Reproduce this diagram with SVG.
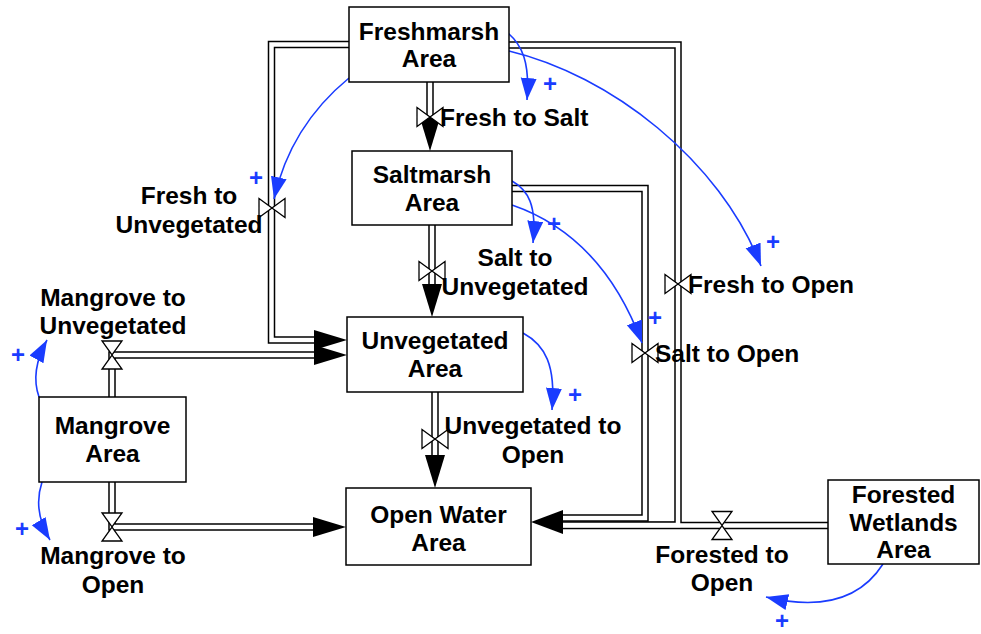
<svg xmlns="http://www.w3.org/2000/svg" width="981" height="634" viewBox="0 0 981 634">
<defs>
<style>
.box{fill:#fff;stroke:#000;stroke-width:1.5}
.t{font-family:"Liberation Sans",Arial,Helvetica,sans-serif;font-weight:bold;font-size:24.5px;fill:#000}
.c{text-anchor:middle}
.plus{font-family:"Liberation Sans",Arial,Helvetica,sans-serif;font-weight:bold;font-size:24px;fill:#1a3cff;text-anchor:middle}
.po{fill:none;stroke:#000;stroke-width:7.5;stroke-linejoin:miter}
.pi{fill:none;stroke:#fff;stroke-width:4.5;stroke-linejoin:miter}
.valve{fill:#fff;stroke:#000;stroke-width:1.3}
.head{fill:#000}
.link{fill:none;stroke:#1a3cff;stroke-width:1.6}
</style>
<marker id="ba" markerUnits="userSpaceOnUse" markerWidth="24" markerHeight="18" refX="22" refY="8" orient="auto">
<path d="M0,0 L22,8 L0,16 Z" fill="#1a3cff"/>
</marker>
</defs>
<rect width="981" height="634" fill="#fff"/>

<g id="connectors">
<g id="pipes-outer">
<path class="po" d="M828,525.5 H560"/>
<path class="po" d="M509,45 H678 V525 H560"/>
<path class="po" d="M512,188.5 H645 V518 H560"/>
<path class="po" d="M349,44.5 H271.5 V340 H317"/>
<path class="po" d="M112,397 V355 H317"/>
<path class="po" d="M112,482 V527 H316"/>
<path class="po" d="M430,82 V121"/>
<path class="po" d="M432,225 V287"/>
<path class="po" d="M435,392 V458"/>
</g>
<g id="pipes-inner">
<path class="pi" d="M828,525.5 H560"/>
<path class="pi" d="M509,45 H678 V525 H560"/>
<path class="pi" d="M512,188.5 H645 V518 H560"/>
<path class="pi" d="M349,44.5 H271.5 V340 H317"/>
<path class="pi" d="M112,397 V355 H317"/>
<path class="pi" d="M112,482 V527 H316"/>
<path class="pi" d="M430,82 V121"/>
<path class="pi" d="M432,225 V287"/>
<path class="pi" d="M435,392 V458"/>
</g>
<g id="flow-heads">
<path class="head" d="M420,118 L440,118 L430,151 Z"/>
<path class="head" d="M422,284 L442,284 L432,317 Z"/>
<path class="head" d="M425,455 L445,455 L435,488 Z"/>
<path class="head" d="M314,330 L314,350 L347,340 Z"/>
<path class="head" d="M314,345 L314,365 L347,355 Z"/>
<path class="head" d="M313,517 L313,537 L346,527 Z"/>
<path class="head" d="M563,510 L563,534 L531,522 Z"/>
</g>
<g id="valves">
<path class="valve" d="M417,107.5 L430,117 L417,126.5 Z M443,107.5 L430,117 L443,126.5 Z"/>
<path class="valve" d="M419,261.5 L432,271 L419,280.5 Z M445,261.5 L432,271 L445,280.5 Z"/>
<path class="valve" d="M422,429.5 L435,439 L422,448.5 Z M448,429.5 L435,439 L448,448.5 Z"/>
<path class="valve" d="M259,198.5 L272,208 L259,217.5 Z M285,198.5 L272,208 L285,217.5 Z"/>
<path class="valve" d="M632,343.5 L645,353 L632,362.5 Z M658,343.5 L645,353 L658,362.5 Z"/>
<path class="valve" d="M665,274.5 L678,284 L665,293.5 Z M691,274.5 L678,284 L691,293.5 Z"/>
<path class="valve" d="M102,341 L122,341 L112,355 Z M102,369 L122,369 L112,355 Z"/>
<path class="valve" d="M102,513 L122,513 L112,527 Z M102,541 L122,541 L112,527 Z"/>
<path class="valve" d="M712,511.5 L732,511.5 L722,525.5 Z M712,539.5 L732,539.5 L722,525.5 Z"/>
</g>
<g id="links">
<path class="link" marker-end="url(#ba)" d="M508,33 C522,45 530,62 527,100"/>
<path class="link" marker-end="url(#ba)" d="M509,51 C610,75 720,160 761,266"/>
<path class="link" marker-end="url(#ba)" d="M349,78 C310,110 285,150 274,199"/>
<path class="link" marker-end="url(#ba)" d="M512,181 C528,190 537,205 533,243"/>
<path class="link" marker-end="url(#ba)" d="M512,205 C570,225 615,270 642,343"/>
<path class="link" marker-end="url(#ba)" d="M523,333 C545,345 556,365 552,410"/>
<path class="link" marker-end="url(#ba)" d="M39,397 C33,380 36,360 47,340"/>
<path class="link" marker-end="url(#ba)" d="M42,482 C36,500 38,520 50,540"/>
<path class="link" marker-end="url(#ba)" d="M883,564 C860,600 820,610 766,597"/>
</g>
<g id="polarity">
<text class="plus" x="550" y="92">+</text>
<text class="plus" x="773" y="250">+</text>
<text class="plus" x="256" y="186">+</text>
<text class="plus" x="554" y="232">+</text>
<text class="plus" x="655" y="326">+</text>
<text class="plus" x="575" y="403">+</text>
<text class="plus" x="18" y="363">+</text>
<text class="plus" x="22" y="537">+</text>
<text class="plus" x="782" y="629">+</text>
</g>
</g>

<g id="flow-labels">
<text class="t" x="440" y="126">Fresh to Salt</text>
<text class="t c" x="189" y="204">Fresh to</text>
<text class="t c" x="189" y="233">Unvegetated</text>
<text class="t c" x="515" y="266">Salt to</text>
<text class="t c" x="515" y="295">Unvegetated</text>
<text class="t c" x="113" y="306">Mangrove to</text>
<text class="t c" x="113" y="334">Unvegetated</text>
<text class="t c" x="533" y="434">Unvegetated to</text>
<text class="t c" x="533" y="463">Open</text>
<text class="t c" x="113" y="564">Mangrove to</text>
<text class="t c" x="113" y="593">Open</text>
<text class="t" x="688" y="293">Fresh to Open</text>
<text class="t" x="655" y="362">Salt to Open</text>
<text class="t c" x="722" y="563">Forested to</text>
<text class="t c" x="722" y="591">Open</text>
</g>

<g id="freshmarsh">
<rect class="box" x="349" y="7" width="160" height="75"/>
<text class="t c" x="429" y="40">Freshmarsh</text>
<text class="t c" x="429" y="67">Area</text>
</g>
<g id="saltmarsh">
<rect class="box" x="352" y="151" width="160" height="74"/>
<text class="t c" x="432" y="183">Saltmarsh</text>
<text class="t c" x="432" y="211">Area</text>
</g>
<g id="unvegetated">
<rect class="box" x="347" y="317" width="176" height="75"/>
<text class="t c" x="435" y="349">Unvegetated</text>
<text class="t c" x="435" y="377">Area</text>
</g>
<g id="openwater">
<rect class="box" x="346" y="488" width="185" height="77"/>
<text class="t c" x="438.5" y="523">Open Water</text>
<text class="t c" x="438.5" y="551">Area</text>
</g>
<g id="mangrove">
<rect class="box" x="39" y="397" width="147" height="85"/>
<text class="t c" x="112.5" y="434">Mangrove</text>
<text class="t c" x="112.5" y="462">Area</text>
</g>
<g id="forested">
<rect class="box" x="828" y="480" width="151" height="84"/>
<text class="t c" x="903.5" y="503">Forested</text>
<text class="t c" x="903.5" y="531">Wetlands</text>
<text class="t c" x="903.5" y="558">Area</text>
</g>
</svg>
